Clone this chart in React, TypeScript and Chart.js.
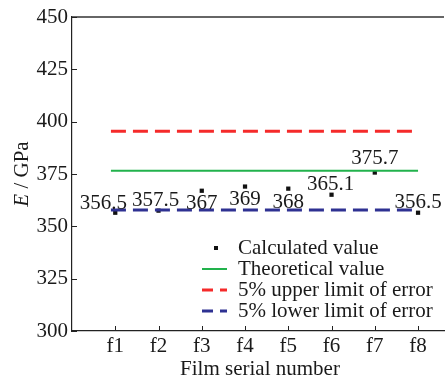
import { useEffect, useRef } from "react";
import { Chart, registerables } from "chart.js";

Chart.register(...registerables);

const categories = ["f1", "f2", "f3", "f4", "f5", "f6", "f7", "f8"];
const calculated = [356.5, 357.5, 367, 369, 368, 365.1, 375.7, 356.5];
const pointLabels = ["356.5", "357.5", "367", "369", "368", "365.1", "375.7", "356.5"];
const theoretical = 376.6;
const upperLimit = 395.4;
const lowerLimit = 357.8;
const lineSpan = [0.9, 8];
const yTicks = [300, 325, 350, 375, 400, 425, 450];
const legendLabels = [
  "Calculated value",
  "Theoretical value",
  "5% upper limit of error",
  "5% lower limit of error",
];

const FONT = "'Liberation Serif', 'Times New Roman', serif";
const FS = 21;
const GREEN = "#22b24c";
const RED = "#f52a2a";
const BLUE = "#2e3192";
const TEXT = "#1a1a1a";

// label offsets (style only): dx, dy of label centre relative to point
const labelOffsets = [
  [-12, -9],
  [-3, -10],
  [0, 13],
  [0, 13],
  [0, 14],
  [-1, -10],
  [0, -14],
  [0, -10],
];

const decorPlugin = {
  id: "decor",
  afterDatasetsDraw(chart: any) {
    const { ctx, chartArea, scales } = chart;
    const xs = scales.x;
    const ys = scales.y;
    ctx.save();
    // top border
    ctx.strokeStyle = "#333";
    ctx.lineWidth = 1.5;
    ctx.beginPath();
    ctx.moveTo(chartArea.left, chartArea.top);
    ctx.lineTo(chartArea.right, chartArea.top);
    ctx.stroke();
    // inward ticks
    ctx.strokeStyle = "#222";
    ctx.lineWidth = 1;
    categories.forEach((_, i) => {
      const px = Math.round(xs.getPixelForValue(i + 1)) + 0.5;
      ctx.beginPath();
      ctx.moveTo(px, chartArea.bottom);
      ctx.lineTo(px, chartArea.bottom - 5);
      ctx.stroke();
    });
    yTicks.forEach((v) => {
      const py = Math.round(ys.getPixelForValue(v)) + 0.5;
      ctx.beginPath();
      ctx.moveTo(chartArea.left, py);
      ctx.lineTo(chartArea.left + 5, py);
      ctx.stroke();
    });
    // point labels
    ctx.fillStyle = TEXT;
    ctx.font = `${FS}px ${FONT}`;
    ctx.textAlign = "center";
    ctx.textBaseline = "middle";
    calculated.forEach((v, i) => {
      const px = xs.getPixelForValue(i + 1);
      const py = ys.getPixelForValue(v);
      const [dx, dy] = labelOffsets[i];
      ctx.fillText(pointLabels[i], px + dx, py + dy);
    });
    // legend
    const lx = chartArea.left + 130;
    const ly = chartArea.top + 231;
    const rowH = 21;
    const tx = chartArea.left + 166;
    ctx.textAlign = "left";
    legendLabels.forEach((label, i) => {
      const y = ly + i * rowH;
      if (i === 0) {
        ctx.fillStyle = "#111";
        ctx.fillRect(lx + 12, y - 2, 4, 4);
      } else {
        const color = i === 1 ? GREEN : i === 2 ? RED : BLUE;
        ctx.strokeStyle = color;
        ctx.lineWidth = i === 1 ? 2 : 3;
        ctx.setLineDash(i === 1 ? [] : [11, 7]);
        ctx.beginPath();
        ctx.moveTo(lx, y);
        ctx.lineTo(lx + 25, y);
        ctx.stroke();
        ctx.setLineDash([]);
      }
      ctx.fillStyle = TEXT;
      ctx.fillText(label, tx, y);
    });
    // x title
    ctx.textAlign = "center";
    ctx.fillText("Film serial number", (chartArea.left + chartArea.right) / 2 + 2, chartArea.bottom + 38);
    // y title
    ctx.translate(22, (chartArea.top + chartArea.bottom) / 2);
    ctx.rotate(-Math.PI / 2);
    ctx.font = `italic ${FS}px ${FONT}`;
    const wE = ctx.measureText("E").width;
    ctx.font = `${FS}px ${FONT}`;
    const rest = " / GPa";
    const wR = ctx.measureText(rest).width;
    const start = -(wE + wR) / 2;
    ctx.textAlign = "left";
    ctx.font = `italic ${FS}px ${FONT}`;
    ctx.fillText("E", start, 0);
    ctx.font = `${FS}px ${FONT}`;
    ctx.fillText(rest, start + wE, 0);
    ctx.restore();
  },
};

export default function App() {
  const ref = useRef<HTMLCanvasElement | null>(null);
  useEffect(() => {
    document.body.style.margin = "0";
    document.body.style.background = "#fff";
    const canvas = ref.current!;
    const hline = (v: number) => lineSpan.map((x) => ({ x, y: v }));
    const chart = new Chart(canvas, {
      type: "scatter",
      data: {
        datasets: [
          {
            label: legendLabels[1],
            data: hline(theoretical),
            showLine: true,
            borderColor: GREEN,
            borderWidth: 2,
            pointRadius: 0,
          },
          {
            label: legendLabels[2],
            data: hline(upperLimit),
            showLine: true,
            borderColor: RED,
            borderWidth: 3,
            borderDash: [15, 7],
            pointRadius: 0,
          },
          {
            label: legendLabels[3],
            data: hline(lowerLimit),
            showLine: true,
            borderColor: BLUE,
            borderWidth: 3,
            borderDash: [15, 7],
            pointRadius: 0,
          },
          {
            label: legendLabels[0],
            data: calculated.map((y, i) => ({ x: i + 1, y })),
            pointStyle: "rect",
            pointRadius: 3,
            backgroundColor: "#111",
            borderWidth: 0,
          },
        ],
      },
      options: {
        responsive: false,
        animation: false,
        layout: { padding: { top: 17, right: 1, left: 0, bottom: 0 } },
        plugins: { legend: { display: false }, tooltip: { enabled: false } },
        scales: {
          x: {
            type: "linear",
            min: 0,
            max: 8.6,
            afterBuildTicks: (s: any) => {
              s.ticks = categories.map((_, i) => ({ value: i + 1 }));
            },
            afterFit: (s: any) => {
              s.height = 48;
            },
            ticks: {
              callback: (_v: any, i: number) => categories[i],
              font: { family: FONT, size: FS },
              color: TEXT,
              padding: 3,
              maxRotation: 0,
              autoSkip: false,
            },
            grid: { display: false, drawTicks: false },
            border: { display: true, color: "#222", width: 1.2 },
          },
          y: {
            min: 300,
            max: 450,
            afterBuildTicks: (s: any) => {
              s.ticks = yTicks.map((v) => ({ value: v }));
            },
            afterFit: (s: any) => {
              s.width = 72;
            },
            ticks: {
              callback: (v: any) => String(v),
              font: { family: FONT, size: FS },
              color: TEXT,
              padding: 4,
            },
            grid: { display: false, drawTicks: false },
            border: { display: true, color: "#222", width: 1.2 },
          },
        },
      },
      plugins: [decorPlugin],
    } as any);
    return () => chart.destroy();
  }, []);
  return (
    <div style={{ width: 448, height: 379 }}>
      <canvas ref={ref} width={448} height={379} style={{ display: "block" }} />
    </div>
  );
}
